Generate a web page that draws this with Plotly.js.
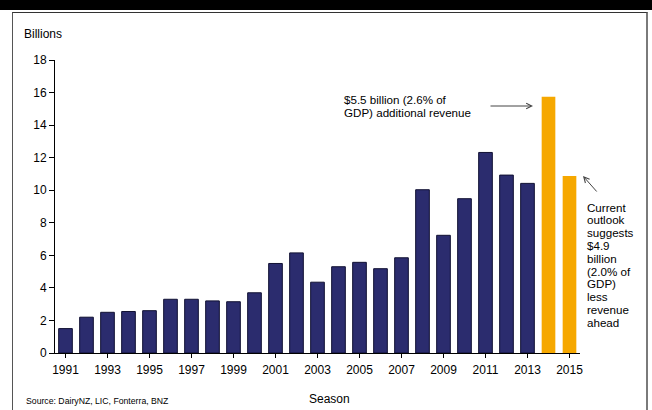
<!DOCTYPE html>
<html>
<head>
<meta charset="utf-8">
<script src="https://cdn.plot.ly/plotly-3.0.1.min.js"></script>
<style>
  html, body { margin: 0; padding: 0; background: #fff; }
  #wrap { position: relative; width: 652px; height: 410px; overflow: hidden; }
  #band { position: absolute; left: 0; top: 0; width: 652px; height: 10px; background: #000; }
  #frame { position: absolute; left: 12px; top: 12px; width: 633px; height: 420px;
           border-left: 1px solid #555; border-top: 1px solid #333; border-right: 2px solid #7a7a7a; }
  #chart { position: absolute; left: 0; top: 0; width: 652px; height: 410px; }
</style>
</head>
<body>
<div id="wrap">
  <div id="band"></div>
  <div id="frame"></div>
  <div id="chart"></div>
</div>
<script>
// ---- Data ----
const seasons = [1991,1992,1993,1994,1995,1996,1997,1998,1999,2000,2001,2002,2003,2004,2005,2006,2007,2008,2009,2010,2011,2012,2013,2014,2015];
const revenue = [1.5,2.2,2.5,2.55,2.6,3.3,3.3,3.2,3.15,3.7,5.5,6.15,4.35,5.3,5.57,5.18,5.85,10.03,7.23,9.48,12.32,10.93,10.42,15.75,10.88];
const forecastSeasons = [2014, 2015];
const yTickVals = [0,2,4,6,8,10,12,14,16,18];
const xTickVals = [1991,1993,1995,1997,1999,2001,2003,2005,2007,2009,2011,2013,2015];
const note1Lines = ["$5.5 billion (2.6% of", "GDP) additional revenue"];
const note2Lines = ["Current","outlook","suggests","$4.9","billion","(2.0% of","GDP)","less","revenue","ahead"];
const sourceText = "Source: DairyNZ, LIC, Fonterra, BNZ";

// ---- Layout geometry ----
const W = 652, H = 410;
const M = {l: 55, r: 72, t: 60, b: 57};
const PW = W - M.l - M.r, PH = H - M.t - M.b;
const px = x => (x - M.l) / PW;          // pixel x -> paper x
const py = y => (H - M.b - y) / PH;      // pixel y -> paper y

const NAVY = '#2b2c6e', ORANGE = '#f6a800';
const isF = seasons.map(s => forecastSeasons.includes(s));

const trace = {
  type: 'bar',
  x: seasons,
  y: revenue,
  width: 0.65,
  marker: {
    color: isF.map(f => f ? ORANGE : NAVY),
    line: { color: isF.map(f => f ? ORANGE : '#111133'), width: isF.map(f => f ? 0 : 1) }
  },
  hoverinfo: 'x+y'
};

const FONT = 'Liberation Sans, Arial, Helvetica, sans-serif';
const annotations = [];
function textAt(text, x, y, size, anchor) {
  annotations.push({
    xref: 'paper', yref: 'paper', x: px(x), y: py(y),
    xanchor: anchor || 'left', yanchor: 'middle',
    text: text, showarrow: false,
    font: {family: FONT, size: size, color: '#000'}
  });
}
textAt('Billions', 22, 34.5, 12);
textAt(sourceText, 24, 401, 8.7);
textAt('Season', 329, 399, 12, 'center');
note1Lines.forEach((t, i) => textAt(t, 342, 99.5 + i * 12.8, 11.6));
note2Lines.forEach((t, i) => textAt(t, 585, 207 + i * 12.8, 11.6));

// arrows
function arrow(hx, hy, tx, ty) {
  annotations.push({
    xref: 'paper', yref: 'paper', x: px(hx), y: py(hy),
    ax: tx - hx, ay: ty - hy, axref: 'pixel', ayref: 'pixel',
    text: '', showarrow: true, arrowhead: 5, arrowsize: 1.1, arrowwidth: 1,
    arrowcolor: '#444', standoff: 0, startstandoff: 0
  });
}
arrow(533, 106, 489, 106);
arrow(583, 176, 598, 193);

const layout = {
  width: W, height: H,
  margin: M,
  paper_bgcolor: 'rgba(0,0,0,0)',
  plot_bgcolor: 'rgba(0,0,0,0)',
  font: {family: FONT, size: 12, color: '#000'},
  showlegend: false,
  bargap: 0.35,
  xaxis: {
    range: [1990.5, 2015.5],
    tickmode: 'array', tickvals: xTickVals, ticktext: xTickVals.map(String),
    ticks: 'outside', ticklen: 4, tickcolor: '#000', tickwidth: 1,
    showline: true, linecolor: '#000', linewidth: 1,
    showgrid: false, zeroline: false,
    ticklabelstandoff: 2,
    tickfont: {family: FONT, size: 12, color: '#000'}
  },
  yaxis: {
    range: [0, 18],
    tickmode: 'array', tickvals: yTickVals, ticktext: yTickVals.map(String),
    ticks: 'outside', ticklen: 5, tickcolor: '#000', tickwidth: 1,
    showline: true, linecolor: '#000', linewidth: 1,
    showgrid: false, zeroline: false,
    tickfont: {family: FONT, size: 12, color: '#000'}
  },
  annotations: annotations
};

Plotly.newPlot('chart', [trace], layout, {displayModeBar: false, staticPlot: true});
</script>
</body>
</html>
